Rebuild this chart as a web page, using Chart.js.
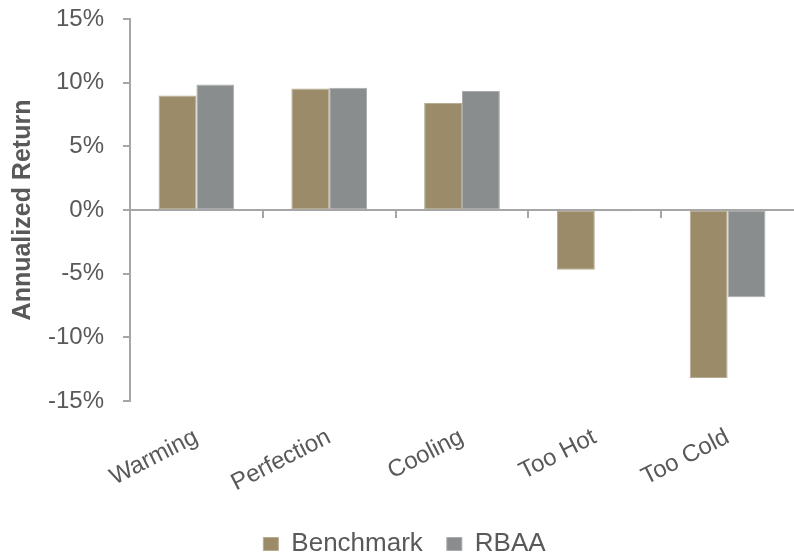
<!DOCTYPE html>
<html>
<head>
<meta charset="utf-8">
<script src="https://cdn.jsdelivr.net/npm/chart.js@4/dist/chart.umd.min.js"></script>
<style>
  html, body { margin: 0; padding: 0; background: #ffffff; }
  #wrap { width: 794px; height: 557px; }
</style>
</head>
<body>
<div id="wrap"><canvas id="c" width="794" height="557"></canvas></div>
<script>
// Annualized return by economic regime
const regimes = ['Warming', 'Perfection', 'Cooling', 'Too Hot', 'Too Cold'];
const benchmark = [9.0, 9.55, 8.4, -4.7, -13.2];
const rbaa = [9.85, 9.6, 9.35, -0.1, -6.85];
const yTicks = [-15, -10, -5, 0, 5, 10, 15];

const FONT = "'Liberation Sans', Arial, sans-serif";
const TEXT = '#595959';
const AXIS = '#A6A6A6';
const PLOT_TOP = 19;
const PLOT_BOTTOM = 401;
const PLOT_LEFT = 130;
const PAD_BOTTOM = -10;
const LEGEND_SHIFT = 6;

// Horizontal zero line with small ticks between the categories
const zeroAxis = {
  id: 'zeroAxis',
  afterDatasetsDraw(chart) {
    const { ctx, chartArea, scales: { x, y } } = chart;
    const y0 = Math.round(y.getPixelForValue(0));
    ctx.save();
    ctx.strokeStyle = AXIS;
    ctx.lineWidth = 2;
    ctx.beginPath();
    ctx.moveTo(chartArea.left, y0);
    ctx.lineTo(chartArea.right, y0);
    for (let i = 1; i < regimes.length; i++) {
      const bx = Math.round((x.getPixelForValue(i - 1) + x.getPixelForValue(i)) / 2);
      ctx.moveTo(bx, y0);
      ctx.lineTo(bx, y0 + 8);
    }
    ctx.stroke();
    ctx.restore();
  }
};

// Nudge the legend a little to the right of the canvas centre
const legendNudge = {
  id: 'legendNudge',
  afterLayout(chart) {
    if (chart.legend) {
      chart.legend.left += LEGEND_SHIFT;
      chart.legend.right += LEGEND_SHIFT;
    }
  }
};

new Chart(document.getElementById('c'), {
  type: 'bar',
  data: {
    labels: regimes,
    datasets: [
      {
        label: 'Benchmark',
        data: benchmark,
        backgroundColor: '#9B8B69',
        borderColor: '#B7AC93',
        borderWidth: 1,
        borderSkipped: false
      },
      {
        label: 'RBAA',
        data: rbaa,
        backgroundColor: '#8A8D8E',
        borderColor: '#A9ABAC',
        borderWidth: 1,
        borderSkipped: false
      }
    ]
  },
  options: {
    responsive: false,
    animation: false,
    devicePixelRatio: 1,
    categoryPercentage: 0.57,
    barPercentage: 1.0,
    layout: { padding: { top: PLOT_TOP, right: -3, left: 0, bottom: PAD_BOTTOM } },
    plugins: {
      tooltip: { enabled: false },
      legend: {
        position: 'bottom',
        labels: {
          boxWidth: 15,
          boxHeight: 13,
          padding: 24,
          color: TEXT,
          font: { family: FONT, size: 26 }
        }
      }
    },
    scales: {
      x: {
        grid: { display: false, drawTicks: false },
        border: { display: false },
        ticks: {
          color: TEXT,
          font: { family: FONT, size: 24 },
          minRotation: 27,
          maxRotation: 27,
          autoSkip: false,
          padding: 22
        },
        afterFit(scale) {
          scale.height = scale.chart.height - PAD_BOTTOM - PLOT_BOTTOM - scale.chart.legend.height;
          scale.paddingTop = 0;
          scale.paddingBottom = 0;
        }
      },
      y: {
        min: -15,
        max: 15,
        afterBuildTicks(scale) {
          scale.ticks = yTicks.map(v => ({ value: v }));
        },
        grid: {
          drawOnChartArea: false,
          drawTicks: true,
          tickLength: 7,
          color: AXIS,
          lineWidth: 2
        },
        border: { display: true, color: AXIS, width: 2 },
        ticks: {
          color: TEXT,
          font: { family: FONT, size: 24 },
          padding: 19,
          callback: v => v + '%'
        },
        title: {
          display: true,
          text: 'Annualized Return',
          color: TEXT,
          font: { family: FONT, size: 25, weight: 'bold' },
          padding: { top: 8, bottom: 0 }
        },
        afterFit(scale) {
          scale.width = PLOT_LEFT;
          scale.paddingTop = 0;
          scale.paddingBottom = 0;
        }
      }
    }
  },
  plugins: [zeroAxis, legendNudge]
});
</script>
</body>
</html>
